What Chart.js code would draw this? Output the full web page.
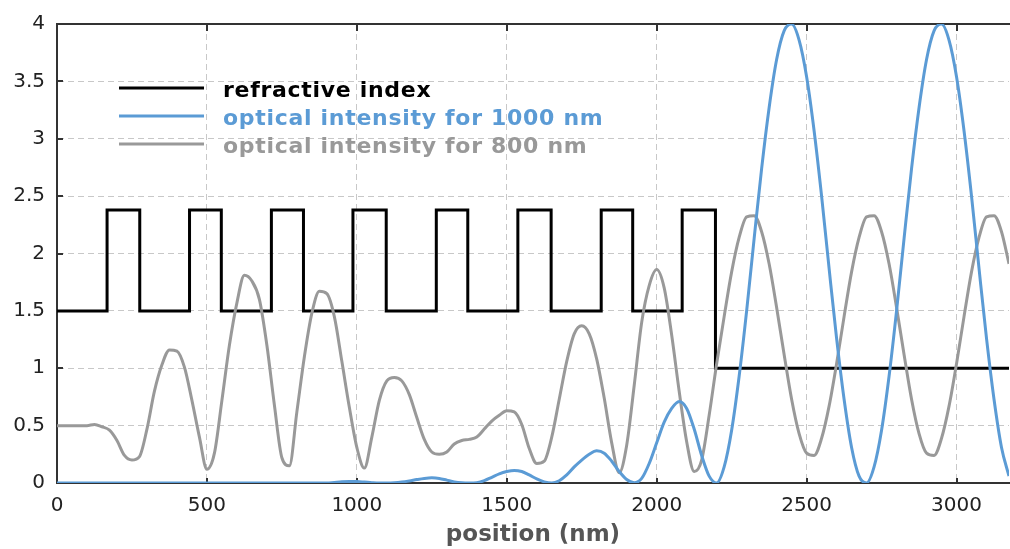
<!DOCTYPE html>
<html>
<head>
<meta charset="utf-8">
<script src="https://cdn.jsdelivr.net/npm/chart.js@4"></script>
<style>
  html, body { margin: 0; padding: 0; background: #fff; }
  canvas { display: block; }
</style>
</head>
<body>
<canvas id="chart" width="1010" height="549"></canvas>
<script>
// positions (nm), every 25 nm
const positions = [
  0, 25, 50, 75, 100, 125, 150, 175,
  200, 225, 250, 275, 300, 325, 350, 375,
  400, 425, 450, 475, 500, 525, 550, 575,
  600, 625, 650, 675, 700, 725, 750, 775,
  800, 825, 850, 875, 900, 925, 950, 975,
  1000, 1025, 1050, 1075, 1100, 1125, 1150, 1175,
  1200, 1225, 1250, 1275, 1300, 1325, 1350, 1375,
  1400, 1425, 1450, 1475, 1500, 1525, 1550, 1575,
  1600, 1625, 1650, 1675, 1700, 1725, 1750, 1775,
  1800, 1825, 1850, 1875, 1900, 1925, 1950, 1975,
  2000, 2025, 2050, 2075, 2100, 2125, 2150, 2175,
  2200, 2225, 2250, 2275, 2300, 2325, 2350, 2375,
  2400, 2425, 2450, 2475, 2500, 2525, 2550, 2575,
  2600, 2625, 2650, 2675, 2700, 2725, 2750, 2775,
  2800, 2825, 2850, 2875, 2900, 2925, 2950, 2975,
  3000, 3025, 3050, 3075, 3100, 3125, 3150, 3175
];

// optical intensity, 1000 nm
const intensity1000 = [
  0, 0, 0, 0, 0, 0, 0, 0,
  0, 0, 0, 0, 0, 0, 0, 0,
  0, 0, 0, 0, 0, 0, 0, 0,
  0, 0, 0, 0, 0, 0, 0, 0,
  0, 0, 0, 0, 0, 0.005, 0.01, 0.012,
  0.012, 0.008, 0.003, 0, 0, 0.002, 0.008, 0.018,
  0.03, 0.04, 0.045, 0.04, 0.025, 0.01, 0.002, 0,
  0.003, 0.02, 0.05, 0.08, 0.10, 0.11, 0.10, 0.07,
  0.035, 0.01, 0, 0.02, 0.07, 0.14, 0.20, 0.25,
  0.28, 0.26, 0.19, 0.10, 0.03, 0.002, 0.04, 0.17,
  0.35, 0.53, 0.65, 0.71, 0.65, 0.47, 0.24, 0.06,
  0, 0.14, 0.46, 0.93, 1.50, 2.13, 2.74, 3.27,
  3.69, 3.94, 4.00, 3.86, 3.54, 3.07, 2.50, 1.87,
  1.26, 0.73, 0.31, 0.06, 0, 0.14, 0.46, 0.93,
  1.50, 2.13, 2.74, 3.27, 3.69, 3.94, 4.00, 3.86,
  3.54, 3.07, 2.50, 1.87, 1.26, 0.73, 0.31, 0.06
];

// optical intensity, 800 nm
const intensity800 = [
  0.50, 0.50, 0.50, 0.50, 0.50, 0.51, 0.49, 0.46,
  0.37, 0.24, 0.20, 0.23, 0.47, 0.80, 1.03, 1.16,
  1.15, 1.01, 0.72, 0.40, 0.12, 0.26, 0.72, 1.20,
  1.57, 1.81, 1.76, 1.60, 1.20, 0.68, 0.22, 0.15,
  0.62, 1.10, 1.48, 1.67, 1.65, 1.45, 1.06, 0.66,
  0.31, 0.13, 0.40, 0.72, 0.89, 0.92, 0.89, 0.77,
  0.57, 0.38, 0.27, 0.25, 0.27, 0.34, 0.37, 0.38,
  0.40, 0.47, 0.54, 0.59, 0.63, 0.62, 0.51, 0.30,
  0.17, 0.19, 0.40, 0.73, 1.06, 1.30, 1.37, 1.30,
  1.08, 0.74, 0.35, 0.09, 0.33, 0.85, 1.40, 1.72,
  1.86, 1.70, 1.29, 0.80, 0.36, 0.10, 0.20, 0.59,
  1.04, 1.45, 1.84, 2.14, 2.32, 2.33, 2.19, 1.91,
  1.53, 1.12, 0.73, 0.43, 0.26, 0.24, 0.39, 0.67,
  1.04, 1.45, 1.84, 2.14, 2.32, 2.33, 2.19, 1.91,
  1.53, 1.12, 0.73, 0.43, 0.26, 0.24, 0.39, 0.67,
  1.04, 1.45, 1.84, 2.14, 2.32, 2.33, 2.19, 1.91
];

// refractive index: layer edges (nm) and the index of the layer ending at each edge
const layerEdges = [0, 167, 276, 442, 548, 715, 822, 987, 1098, 1265, 1370, 1537, 1648, 1815, 1920, 2085, 2196, 3175];
const layerIndex = [1.5, 1.5, 2.38, 1.5, 2.38, 1.5, 2.38, 1.5, 2.38, 1.5, 2.38, 1.5, 2.38, 1.5, 2.38, 1.5, 2.38, 1.0];

const seriesNames = ['refractive index', 'optical intensity for 1000 nm', 'optical intensity for 800 nm'];
const seriesColors = ['#000000', '#5b9bd5', '#999999'];

const xTickValues = [0, 500, 1000, 1500, 2000, 2500, 3000];
const yTickValues = [0, 0.5, 1, 1.5, 2, 2.5, 3, 3.5, 4];

const toPoints = (xs, ys) => xs.map((x, i) => ({ x: x, y: ys[i] }));

const axisColor = '#333';

// inward tick marks, top frame line and the legend inside the plot
const framePlugin = {
  id: 'framePlugin',
  beforeDatasetsDraw(chart) {
    const ctx = chart.ctx;
    const a = chart.chartArea;
    const xs = chart.scales.x, ys = chart.scales.y;
    ctx.save();
    ctx.strokeStyle = axisColor;
    ctx.lineWidth = 2;
    ctx.beginPath();
    ctx.moveTo(a.left - 1, a.top);
    ctx.lineTo(a.right + 1, a.top);
    xs.ticks.forEach(t => {
      const px = Math.round(xs.getPixelForValue(t.value));
      ctx.moveTo(px, a.bottom);
      ctx.lineTo(px, a.bottom - 5);
      ctx.moveTo(px, a.top);
      ctx.lineTo(px, a.top + 7);
    });
    ys.ticks.forEach(t => {
      const py = Math.round(ys.getPixelForValue(t.value));
      ctx.moveTo(a.left, py);
      ctx.lineTo(a.left + 6, py);
    });
    ctx.stroke();
    ctx.restore();
  },
  afterDraw(chart) {
    const ctx = chart.ctx;
    ctx.save();
    ctx.font = 'bold 22px "DejaVu Sans"';
    if ('letterSpacing' in ctx) ctx.letterSpacing = '0.7px';
    ctx.textBaseline = 'alphabetic';
    ctx.textAlign = 'left';
    seriesNames.forEach((name, i) => {
      const y = 88 + i * 28;
      ctx.strokeStyle = seriesColors[i];
      ctx.lineWidth = 3;
      ctx.beginPath();
      ctx.moveTo(119, y);
      ctx.lineTo(204, y);
      ctx.stroke();
      ctx.fillStyle = seriesColors[i];
      ctx.fillText(name, 223, y + 8.5);
    });
    ctx.restore();
  }
};

Chart.defaults.font.family = '"DejaVu Sans"';

const ctx = document.getElementById('chart').getContext('2d');
const myChart = new Chart(ctx, {
  type: 'scatter',
  data: {
    datasets: [
      {
        label: seriesNames[1],
        data: toPoints(positions, intensity1000),
        showLine: true,
        borderColor: seriesColors[1],
        borderWidth: 3,
        pointRadius: 0,
        cubicInterpolationMode: 'monotone',
        order: 0
      },
      {
        label: seriesNames[2],
        data: toPoints(positions, intensity800),
        showLine: true,
        borderColor: seriesColors[2],
        borderWidth: 3,
        pointRadius: 0,
        cubicInterpolationMode: 'monotone',
        order: 1
      },
      {
        label: seriesNames[0],
        data: toPoints(layerEdges, layerIndex),
        showLine: true,
        stepped: 'after',
        borderColor: seriesColors[0],
        borderWidth: 3,
        borderJoinStyle: 'miter',
        pointRadius: 0,
        order: 2
      }
    ]
  },
  plugins: [framePlugin],
  options: {
    responsive: false,
    devicePixelRatio: 1,
    animation: false,
    events: [],
    layout: { padding: { left: 0, top: 21, right: 1, bottom: 0 } },
    plugins: {
      legend: { display: false },
      tooltip: { enabled: false }
    },
    scales: {
      x: {
        type: 'linear',
        min: 0,
        max: 3175,
        afterFit: s => { s.height = 66; },
        afterBuildTicks: s => { s.ticks = xTickValues.map(v => ({ value: v })); },
        ticks: {
          autoSkip: false,
          maxRotation: 0,
          padding: 11,
          color: '#222',
          font: { size: 20 },
          callback: v => String(v)
        },
        grid: { color: '#c8c8c8', lineWidth: 1, drawTicks: false },
        border: { display: true, color: axisColor, width: 2, dash: [6, 4] },
        title: {
          display: true,
          text: 'position (nm)',
          color: '#555',
          font: { size: 23, weight: 'bold' },
          padding: { top: 0, bottom: 0 }
        }
      },
      y: {
        type: 'linear',
        min: 0,
        max: 4,
        afterFit: s => { s.width = 57; },
        afterBuildTicks: s => { s.ticks = yTickValues.map(v => ({ value: v })); },
        ticks: {
          autoSkip: false,
          padding: 12,
          color: '#222',
          font: { size: 20 },
          callback: v => String(v)
        },
        grid: { color: '#c8c8c8', lineWidth: 1, drawTicks: false },
        border: { display: true, color: axisColor, width: 2, dash: [6, 4] }
      }
    }
  }
});
</script>
</body>
</html>
